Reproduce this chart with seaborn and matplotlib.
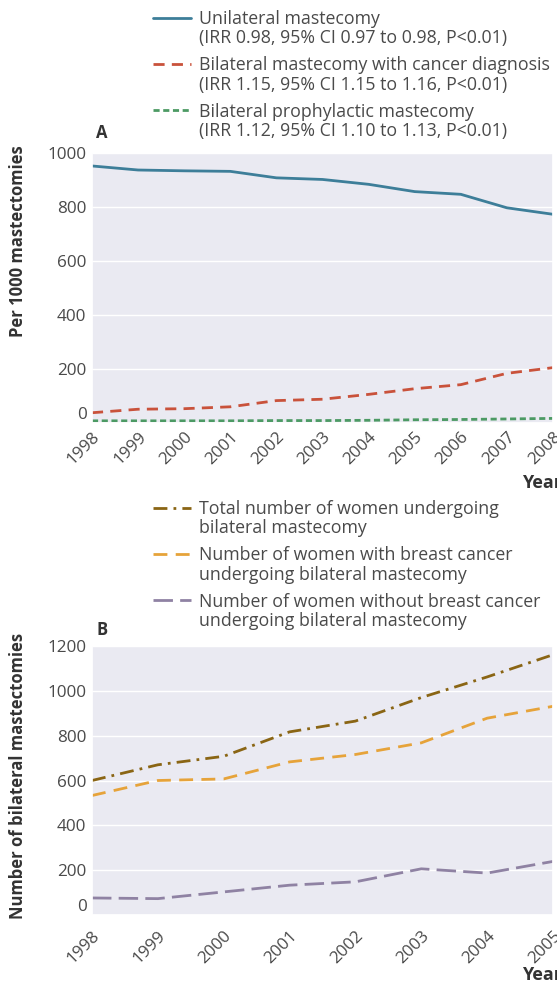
import matplotlib
matplotlib.use("Agg")
import matplotlib.pyplot as plt
import seaborn as sns

# Panel A data (per 1000 mastectomies)
years_a = [1998, 1999, 2000, 2001, 2002, 2003, 2004, 2005, 2006, 2007, 2008]
unilateral = [952, 937, 934, 932, 908, 902, 884, 857, 847, 797, 773]
bilateral_cancer = [38, 51, 53, 60, 83, 88, 106, 127, 142, 184, 205]
bilateral_prophylactic = [8, 8, 8, 8, 9, 9, 10, 12, 13, 15, 17]

labels_a = [
    "Unilateral mastecomy\n(IRR 0.98, 95% CI 0.97 to 0.98, P<0.01)",
    "Bilateral mastecomy with cancer diagnosis\n(IRR 1.15, 95% CI 1.15 to 1.16, P<0.01)",
    "Bilateral prophylactic mastecomy\n(IRR 1.12, 95% CI 1.10 to 1.13, P<0.01)",
]

# Panel B data (number of women)
years_b = [1998, 1999, 2000, 2001, 2002, 2003, 2004, 2005]
total_bilateral = [600, 670, 708, 817, 865, 970, 1062, 1161]
with_cancer = [533, 600, 607, 683, 716, 768, 878, 931]
without_cancer = [76, 73, 103, 133, 148, 206, 187, 239]

labels_b = [
    "Total number of women undergoing\nbilateral mastecomy",
    "Number of women with breast cancer\nundergoing bilateral mastecomy",
    "Number of women without breast cancer\nundergoing bilateral mastecomy",
]

sns.set_theme(style="darkgrid")
plt.rcParams["font.family"] = ["Open Sans", "DejaVu Sans"]
TXT = "#4a4a4a"
plt.rcParams["text.color"] = TXT
plt.rcParams["xtick.color"] = TXT
plt.rcParams["ytick.color"] = TXT

W, H = 557, 988
fig = plt.figure(figsize=(W / 100, H / 100), dpi=100)


def px_axes(left, top, right, bottom):
    return fig.add_axes([left / W, 1 - bottom / H, (right - left) / W, (bottom - top) / H])


ax_a = px_axes(92, 153, 553, 423)
ax_b = px_axes(92, 646, 553, 915)

styles_a = [
    ("#3D7E99", None),
    ("#C9523B", (4, 2.6)),
    ("#4C9A64", (2.2, 1.3)),
]
styles_b = [
    ("#8A6514", (5, 2.2, 1, 2.2)),
    ("#E6A33A", (5, 3)),
    ("#8F82A3", (7, 2.6)),
]


def draw(ax, years, series, labels, styles):
    for vals, lab, (col, dash) in zip(series, labels, styles):
        sns.lineplot(x=years, y=vals, ax=ax, color=col, lw=2.0, label=lab)
        line = ax.lines[-1]
        if dash is not None:
            line.set_dashes(dash)


draw(ax_a, years_a, [unilateral, bilateral_cancer, bilateral_prophylactic], labels_a, styles_a)
draw(ax_b, years_b, [total_bilateral, with_cancer, without_cancer], labels_b, styles_b)

ax_a.set_xlim(1998, 2008)
ax_a.set_ylim(0, 1000)
ax_a.set_yticks([0, 200, 400, 600, 800, 1000])
ax_a.set_xticks(years_a)

ax_b.set_xlim(1998, 2005)
ax_b.set_ylim(0, 1200)
ax_b.set_yticks([0, 200, 400, 600, 800, 1000, 1200])
ax_b.set_xticks(years_b)

for ax, top_px in [(ax_a, 10), (ax_b, 500)]:
    ax.grid(axis="x", visible=False)
    ax.set_xlabel("")
    ax.set_ylabel("")
    ax.tick_params(axis="both", labelsize=12.3, length=0, pad=4)
    for lab in ax.get_xticklabels():
        lab.set_rotation(45)
        lab.set_ha("right")
        lab.set_rotation_mode("anchor")
    ax.get_yticklabels()[0].set_va("bottom")

    leg = ax.legend(
        loc="upper left",
        bbox_to_anchor=(153 / W, 1 - top_px / H),
        bbox_transform=fig.transFigure,
        frameon=False,
        fontsize=12.8,
        handlelength=2.15,
        handleheight=1.2,
        handletextpad=0.42,
        labelspacing=0.5,
        borderpad=0,
        borderaxespad=0,
    )
    for col in leg._legend_handle_box.get_children():
        for row in col.get_children():
            row.align = "top"
    for t in leg.get_texts():
        t.set_color(TXT)
        t.set_linespacing(1.1)

ax_b.tick_params(axis="x", length=5, color="white", direction="out")

fig.text(96 / W, 1 - 133 / H, "A", fontsize=12, fontweight="bold", color="#333333", va="center")
fig.text(96 / W, 1 - 630 / H, "B", fontsize=12, fontweight="bold", color="#333333", va="center")
fig.text(18 / W, 1 - 241 / H, "Per 1000 mastectomies", rotation=90, fontsize=12,
         fontweight="bold", color="#333333", ha="center", va="center")
fig.text(18 / W, 1 - 776 / H, "Number of bilateral mastectomies", rotation=90, fontsize=12,
         fontweight="bold", color="#333333", ha="center", va="center")
fig.text(522 / W, 1 - 483 / H, "Year", fontsize=13, fontweight="bold", color="#333333",
         ha="left", va="center")
fig.text(522 / W, 1 - 975 / H, "Year", fontsize=13, fontweight="bold", color="#333333",
         ha="left", va="center")

fig.savefig("out.png", dpi=100)
